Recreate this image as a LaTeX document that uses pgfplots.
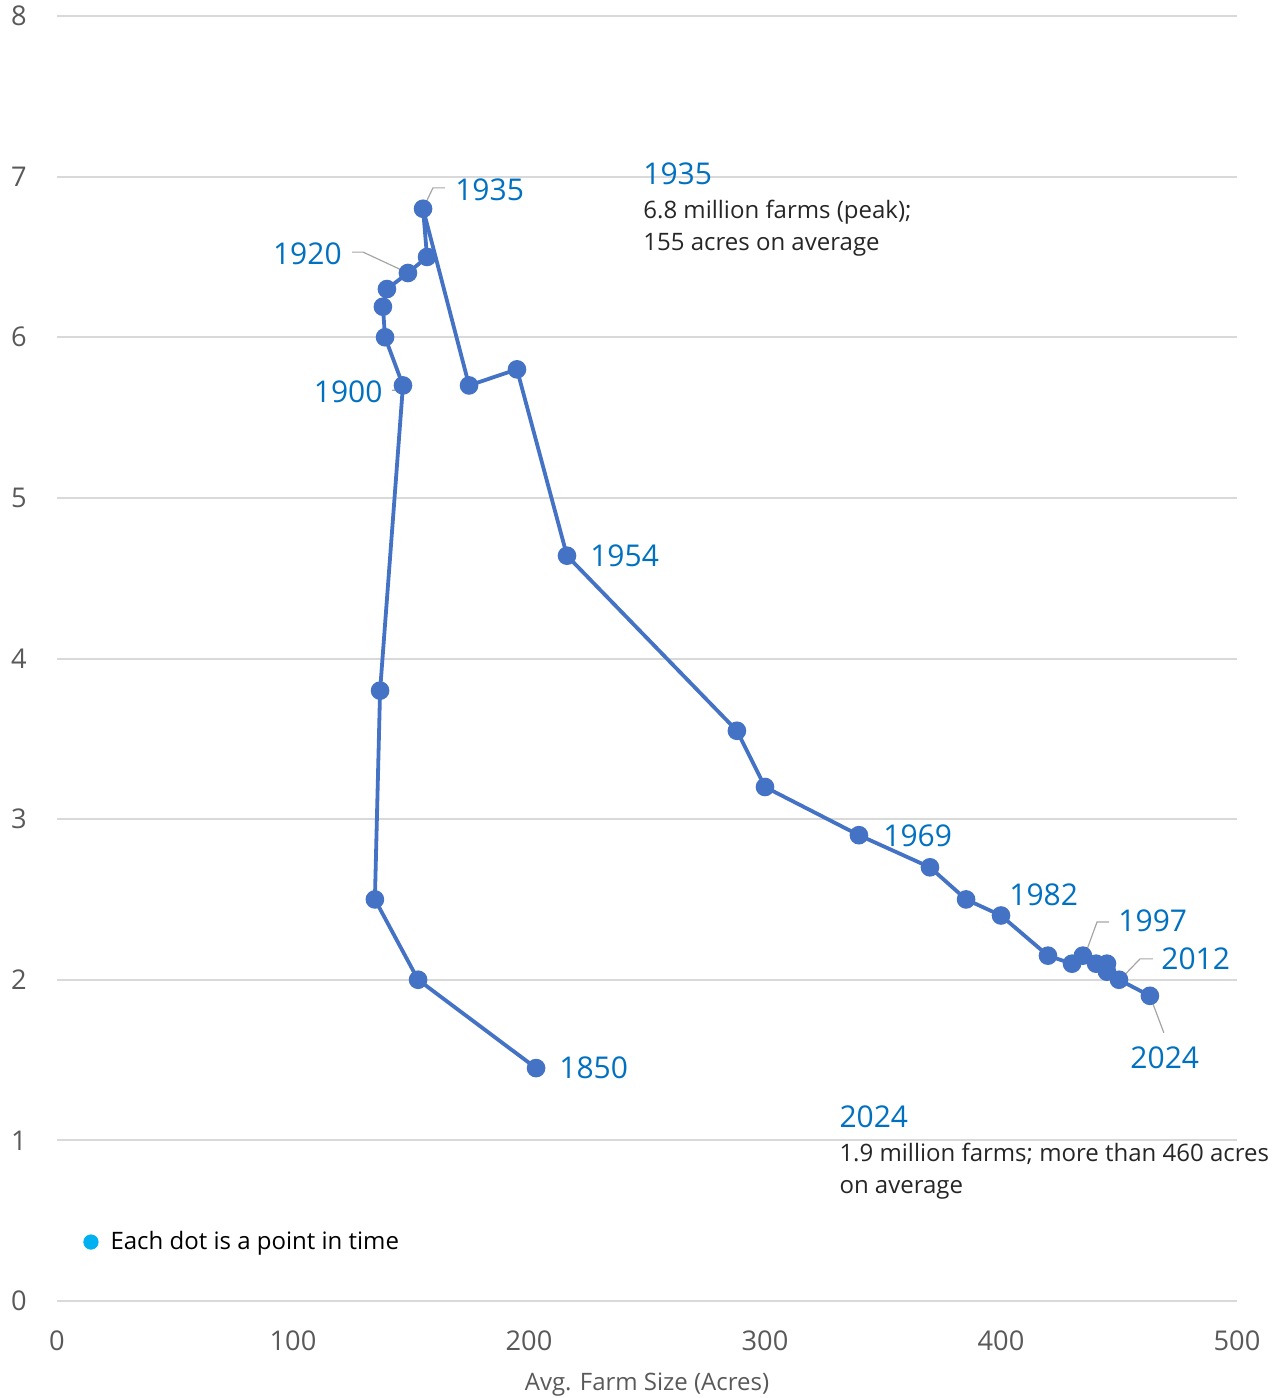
\documentclass[border=0pt]{standalone}
\usepackage{pgfplots}
\pgfplotsset{compat=1.18}
\usepackage{fontspec}
\setmainfont{Open Sans}
\definecolor{serie}{HTML}{4472C4}
\definecolor{lab}{HTML}{0070C0}
\definecolor{tick}{HTML}{595959}
\definecolor{gridc}{HTML}{D9D9D9}
\definecolor{lead}{HTML}{A6A6A6}
\definecolor{dotc}{HTML}{00B0F0}
\begin{document}
\begin{tikzpicture}
\path[use as bounding box] (-28.5pt,-48.5pt) rectangle (613.5pt,650.5pt);
\begin{axis}[
  scale only axis, width=590pt, height=642.5pt,
  at={(0,0)}, anchor=south west,
  xmin=0, xmax=500, ymin=0, ymax=8,
  xtick={0,100,...,500}, ytick={0,1,...,8},
  ymajorgrids, grid style={gridc, line width=1pt},
  axis line style={draw=none},
  major tick length=0pt,
  /pgf/number format/assume math mode=true,
  ticklabel style={font=\fontsize{13.6}{15}\selectfont, text=tick},
  yticklabel style={anchor=center, xshift=-19pt},
  xticklabel style={anchor=center, yshift=-20pt},
  xlabel={Avg. Farm Size (Acres)},
  xlabel style={font=\fontsize{12}{14}\selectfont, text=tick, anchor=center, at={(axis description cs:0.5,0)}, yshift=-42pt},
  clip=false,
  legend style={draw=none, fill=none, at={(axis cs:11,0.367)}, anchor=west, font=\fontsize{12}{14}\selectfont, inner sep=0pt, legend cell align=left},
  legend image code/.code={\fill[dotc] (0.08cm,0) circle (3.6pt);},
]
\addplot[serie, line width=1.9pt, mark=*, mark size=3.7pt, mark options={fill=serie, draw=serie}, forget plot] coordinates {
(203.0,1.45) (153.0,2.00) (134.7,2.50) (136.9,3.80) (146.6,5.70)
(139.0,6.00) (138.1,6.19) (139.8,6.30) (148.7,6.40) (156.8,6.50)
(155.1,6.80) (174.6,5.70) (194.9,5.80) (216.1,4.64) (288.1,3.55)
(300.0,3.20) (339.8,2.90) (369.9,2.70) (385.2,2.50) (400.0,2.40)
(419.9,2.15) (430.1,2.10) (434.7,2.15) (440.3,2.10) (444.9,2.10)
(444.9,2.05) (450.0,2.00) (463.1,1.90)
};
\addlegendimage{only marks}
\addlegendentry{\hspace*{4pt}Each dot is a point in time}
% leader lines
\draw[lead, line width=0.6pt] (axis cs:141.9,5.67) -- (axis cs:146.2,5.67) -- (axis cs:146.6,5.70);
\draw[lead, line width=0.6pt] (axis cs:125,6.53) -- (axis cs:129.7,6.53) -- (axis cs:148.7,6.40);
\draw[lead, line width=0.6pt] (axis cs:164.4,6.93) -- (axis cs:159.3,6.93) -- (axis cs:155.1,6.80);
\draw[lead, line width=0.6pt] (axis cs:445.8,2.36) -- (axis cs:440.7,2.36) -- (axis cs:435.6,2.155);
\draw[lead, line width=0.6pt] (axis cs:464.4,2.13) -- (axis cs:458.9,2.13) -- (axis cs:450.4,2.0);
\draw[lead, line width=0.6pt] (axis cs:463.1,1.9) -- (axis cs:469,1.67);
% data labels
\tikzset{lbl/.style={text=lab, inner sep=0pt, font=\fontsize{15}{16}\selectfont}}
\node[lbl, anchor=west] at (axis cs:212.7,1.45) {1850};
\node[lbl, anchor=east] at (axis cs:138.1,5.66) {1900};
\node[lbl, anchor=east] at (axis cs:120.8,6.52) {1920};
\node[lbl, anchor=west] at (axis cs:168.6,6.92) {1935};
\node[lbl, anchor=west] at (axis cs:225.8,4.64) {1954};
\node[lbl, anchor=west] at (axis cs:350.0,2.895) {1969};
\node[lbl, anchor=west] at (axis cs:403.4,2.53) {1982};
\node[lbl, anchor=west] at (axis cs:449.6,2.366) {1997};
\node[lbl, anchor=west] at (axis cs:467.8,2.13) {2012};
\node[lbl, anchor=west] at (axis cs:454.7,1.513) {2024};
% annotations
\tikzset{ann/.style={text=black!85, inner sep=0pt, anchor=west, font=\fontsize{12}{14}\selectfont}}
\node[lbl, anchor=west] at (axis cs:248.3,7.02) {1935};
\node[ann] at (axis cs:248.3,6.78) {6.8 million farms (peak);};
\node[ann] at (axis cs:248.3,6.575) {155 acres on average};
\node[lbl, anchor=west] at (axis cs:331.4,1.146) {2024};
\node[ann] at (axis cs:331.4,0.915) {1.9 million farms; more than 460 acres};
\node[ann] at (axis cs:331.4,0.695) {on average};
\end{axis}
\end{tikzpicture}
\end{document}
